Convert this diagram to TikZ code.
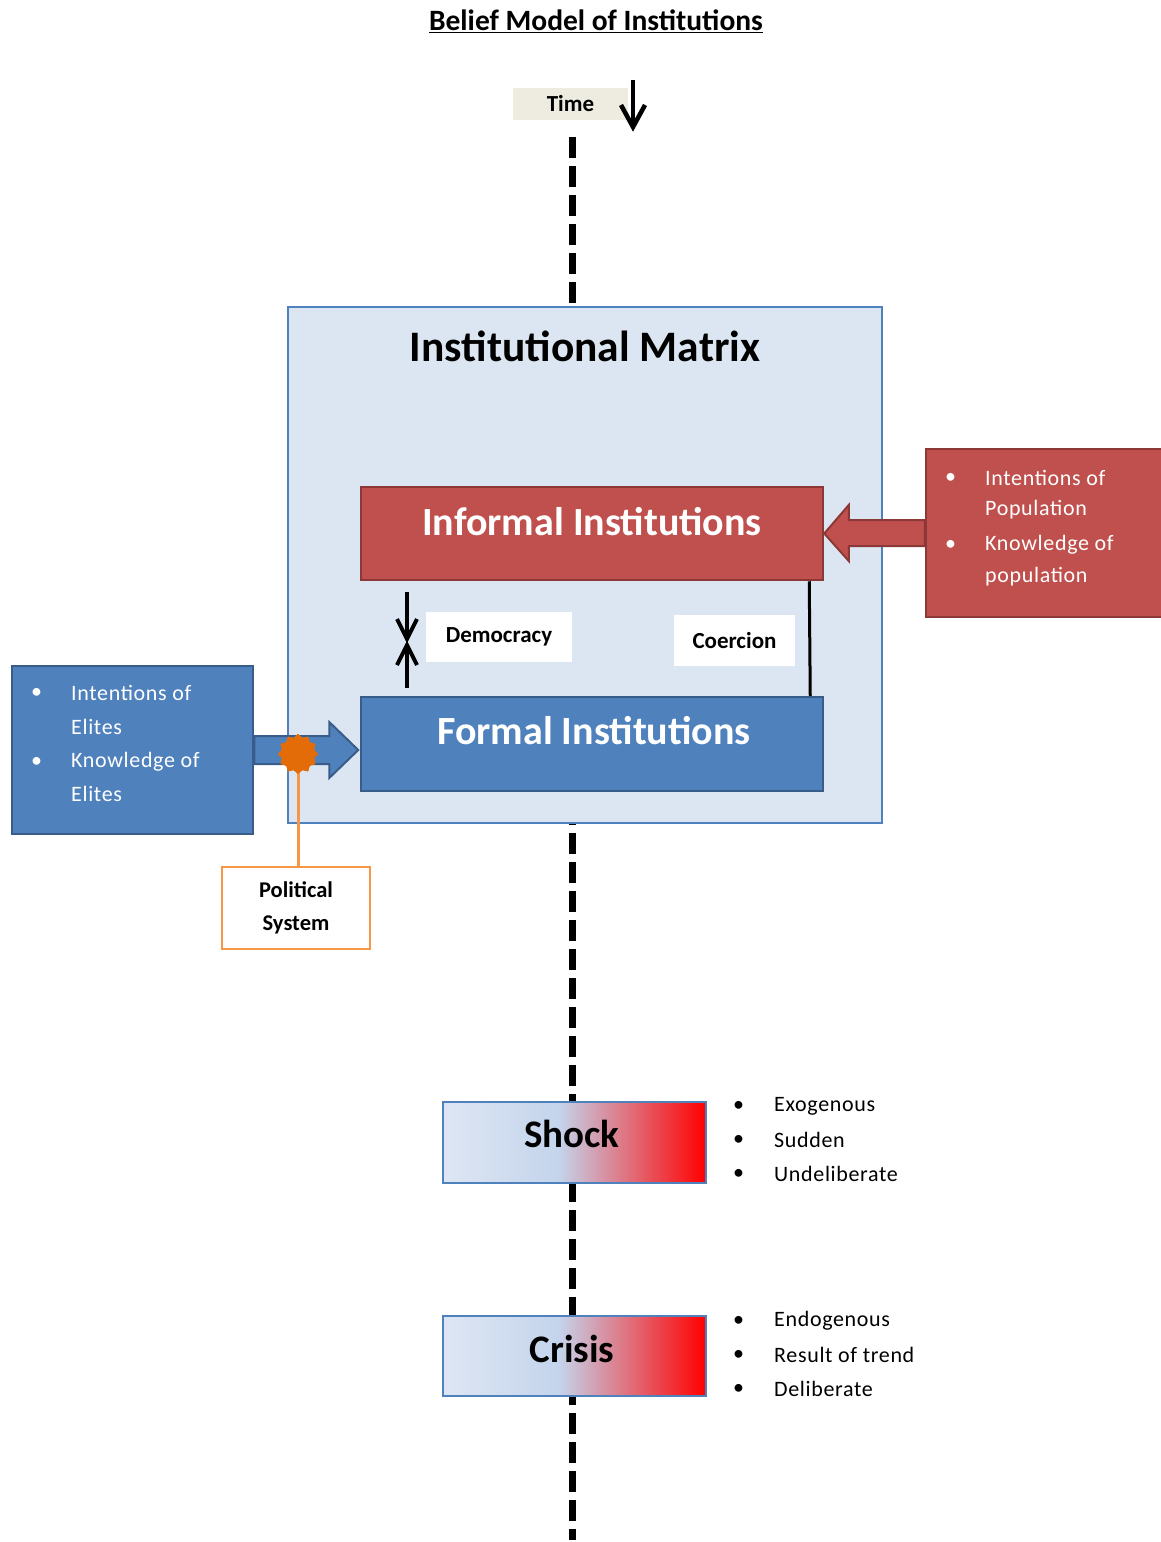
\documentclass[tikz,border=0pt]{standalone}
\usepackage{fontspec}
\setmainfont{Carlito}
\newfontfamily\bulletfont[LetterSpace=3]{Carlito}
\usetikzlibrary{arrows.meta,shapes.geometric,calc}
\definecolor{matfill}{HTML}{DCE6F2}
\definecolor{matline}{HTML}{4F81BD}
\definecolor{redfill}{HTML}{C0504D}
\definecolor{redline}{HTML}{8C3836}
\definecolor{bluefill}{HTML}{4F81BD}
\definecolor{blueline}{HTML}{385D8A}
\definecolor{timefill}{HTML}{EEECE1}
\definecolor{orangeline}{HTML}{F79646}
\definecolor{orangestar}{HTML}{E36C09}
\definecolor{gradA}{HTML}{DEE6F3}
\definecolor{gradB}{HTML}{C4D4EC}
\definecolor{gradC}{HTML}{FF0000}
\pgfdeclarehorizontalshading{eventshade}{100bp}{color(0bp)=(gradA); color(25bp)=(gradA); color(47bp)=(gradB); color(75bp)=(gradC); color(100bp)=(gradC)}
\tikzset{
  box/.style={draw, rectangle, line width=2.5pt, inner sep=0pt, anchor=center},
  redbox/.style={box, fill=redfill, draw=redline},
  bluebox/.style={box, fill=bluefill, draw=blueline},
  whitebox/.style={rectangle, fill=white, inner sep=0pt, anchor=center, font=\fontsize{23}{26}\selectfont\bfseries},
  eventbox/.style={box, draw=matline, line width=2.5pt, shading=eventshade},
  biglabel/.style={font=\fontsize{40}{44}\selectfont\bfseries, text=white},
  eventlabel/.style={font=\fontsize{39}{44}\selectfont\bfseries, text=black},
  bullettxt/.style={anchor=west, inner sep=0pt, font=\fontsize{22}{26}\bulletfont},
  timeline/.style={line width=7pt, dash pattern=on 21pt off 8pt},
  shaft/.style={line width=4pt},
  vhead/.style={line width=4pt, line join=miter, miter limit=10},
}
\begin{document}
\begin{tikzpicture}[x=1pt,y=-1pt]
\useasboundingbox (0,0) rectangle (1160,1542);
\fill[white] (0,0) rectangle (1160,1542);

% title
\node[font=\fontsize{29.5}{32}\selectfont\bfseries] (title) at (596,21) {\underline{Belief Model of Institutions}};

% time
\node[rectangle, fill=timefill, minimum width=115pt, minimum height=32pt, inner sep=0pt, font=\fontsize{23}{26}\selectfont\bfseries] (time) at (570.5,104) {Time};
\coordinate (tarrowtop) at (633,80);
\coordinate (tarrowbot) at (633,127);
\draw[line width=4.5pt] (tarrowtop) -- ($(tarrowbot)+(0,-2)$);
\draw[line width=4.5pt, line join=miter, miter limit=10] ($(tarrowbot)+(-12,-22)$) -- (tarrowbot) -- ($(tarrowbot)+(12,-22)$);

% timeline
\coordinate (tltop) at (572,137);
\coordinate (tlbot) at (572,1540);
\draw[timeline] (tltop) -- (tlbot);

% institutional matrix
\node[box, fill=matfill, draw=matline, minimum width=594pt, minimum height=516pt] (matrix) at (585,565) {};
\node[font=\fontsize{43.5}{48}\selectfont\bfseries] (mattitle) at (585,346) {Institutional Matrix};

% informal / formal
\node[redbox, minimum width=462pt, minimum height=93pt] (informal) at (592,533.5) {};
\node[biglabel] (informaltxt) at (592,522) {Informal Institutions};
\node[bluebox, minimum width=462pt, minimum height=94pt] (formal) at (592,744) {};
\node[biglabel] (formaltxt) at (594,731) {Formal Institutions};

% democracy / coercion
\node[whitebox, minimum width=146pt, minimum height=50pt] (democracy) at (499,637) {Democracy};
\node[whitebox, minimum width=121pt, minimum height=51pt] (coercion) at (734.5,640.5) {Coercion};
\coordinate (dtop) at (407,592);
\coordinate (dmid1) at (407,639);
\coordinate (dbot) at (407,688);
\coordinate (dmid2) at (407,645);
\draw[shaft] (dtop) -- ($(dmid1)+(0,-2)$);
\draw[vhead] ($(dmid1)+(-10,-20)$) -- (dmid1) -- ($(dmid1)+(10,-20)$);
\draw[shaft] (dbot) -- ($(dmid2)+(0,2)$);
\draw[vhead] ($(dmid2)+(-10,20)$) -- (dmid2) -- ($(dmid2)+(10,20)$);
\draw[line width=3pt] ($(informal.south east)+(-15,0)$) -- ($(formal.north east)+(-14,0)$);

% population box + arrow
\node[redbox, minimum width=236pt, minimum height=168pt] (popbox) at (1044,533) {};
\fill[redfill, draw=redline, line width=2pt] ($(popbox.west)+(0,-13)$) -- ++(-76,0) -- ++(0,-15) -- ($(informal.east)+(0,0)$) -- ($(popbox.west)+(-76,28)$) -- ++(0,-15) -- ($(popbox.west)+(0,13)$) -- cycle;
\node[redbox, minimum width=236pt, minimum height=168pt] (popbox2) at (1044,533) {};
\node[bullettxt, text=white] (pb1) at (945,478) {•};
\node[bullettxt, text=white] (pt1) at (985,478) {Intentions of};
\node[bullettxt, text=white] (pt2) at (985,510) {Population};
\node[bullettxt, text=white] (pb2) at (945,545) {•};
\node[bullettxt, text=white] (pt3) at (985,545) {Knowledge of};
\node[bullettxt, text=white] (pt4) at (985,577) {population};

% elites box + arrow
\node[bluebox, minimum width=241pt, minimum height=168pt] (elitebox) at (132.5,750) {};
\fill[bluefill, draw=blueline, line width=2pt] ($(elitebox.east)+(0,-14)$) -- ++(75,0) -- ++(0,-14) -- ($(elitebox.east)+(104,0)$) -- ($(elitebox.east)+(75,28)$) -- ++(0,-14) -- ($(elitebox.east)+(0,14)$) -- cycle;
\node[bluebox, minimum width=241pt, minimum height=168pt] (elitebox2) at (132.5,750) {};
\node[bullettxt, text=white] (eb1) at (31,693) {•};
\node[bullettxt, text=white] (et1) at (71,693) {Intentions of};
\node[bullettxt, text=white] (et2) at (71,727) {Elites};
\node[bullettxt, text=white] (eb2) at (31,762) {•};
\node[bullettxt, text=white] (et3) at (71,762) {Knowledge of};
\node[bullettxt, text=white] (et4) at (71,794) {Elites};

% political system
\node[rectangle, draw=orangeline, line width=2pt, fill=white, minimum width=148pt, minimum height=82pt, inner sep=0pt, align=center, font=\fontsize{22.5}{33}\selectfont\bfseries] (political) at (296,908) {Political\\System};
\node[star, star points=12, star point ratio=1.2, fill=orangestar, minimum size=40pt, inner sep=0pt] (burst) at (298,754) {};
\draw[orangeline, line width=3pt] (burst.center) -- (political.north -| burst.center);
\node[star, star points=12, star point ratio=1.2, fill=orangestar, minimum size=40pt, inner sep=0pt] (burst2) at (298,754) {};

% shock / crisis
\node[eventbox, minimum width=263pt, minimum height=81pt] (shock) at (574.5,1142.5) {};
\node[eventlabel] (shocktxt) at (572,1134) {Shock};
\node[eventbox, minimum width=263pt, minimum height=80pt] (crisis) at (574.5,1356) {};
\node[eventlabel] (crisistxt) at (572,1349) {Crisis};

\node[bullettxt] (sb1) at (733,1106) {•};
\node[bullettxt] (st1) at (774,1106) {Exogenous};
\node[bullettxt] (sb2) at (733,1140) {•};
\node[bullettxt] (st2) at (774,1140) {Sudden};
\node[bullettxt] (sb3) at (733,1174) {•};
\node[bullettxt] (st3) at (774,1174) {Undeliberate};

\node[bullettxt] (cb1) at (733,1321) {•};
\node[bullettxt] (ct1) at (774,1321) {Endogenous};
\node[bullettxt] (cb2) at (733,1355) {•};
\node[bullettxt] (ct2) at (774,1355) {Result of trend};
\node[bullettxt] (cb3) at (733,1389) {•};
\node[bullettxt] (ct3) at (774,1389) {Deliberate};
\end{tikzpicture}
\end{document}
